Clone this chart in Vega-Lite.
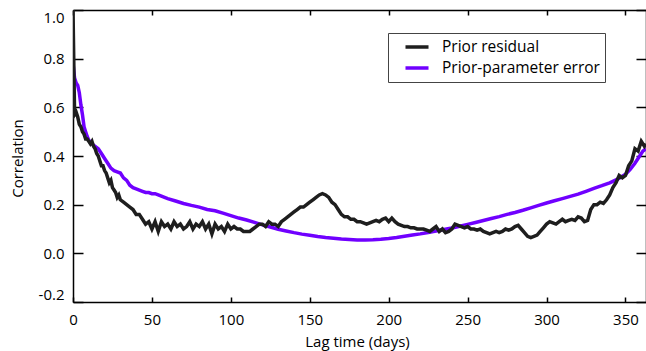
{
  "$schema": "https://vega.github.io/schema/vega-lite/v6.json",
  "width": 573,
  "height": 292,
  "autosize": {"type": "none"},
  "padding": {"left": 73, "top": 10, "right": 0, "bottom": 49},
  "background": "white",
  "config": {
    "view": {"stroke": null},
    "font": "Open Sans",
    "axis": {
      "grid": false,
      "domainColor": "black",
      "domainWidth": 1.5,
      "tickColor": "black",
      "tickWidth": 1.5,
      "labelFont": "Open Sans",
      "labelFontSize": 15,
      "labelColor": "black",
      "titleFont": "Open Sans",
      "titleFontSize": 15,
      "titleFontWeight": "normal",
      "titleColor": "black"
    }
  },
  "datasets": {
    "pr": [
      {"lag":0,"corr":1.0},{"lag":1,"corr":0.57},{"lag":2,"corr":0.58},{"lag":3,"corr":0.56},{"lag":4,"corr":0.53},{"lag":5,"corr":0.52},{"lag":6,"corr":0.50},{"lag":7,"corr":0.49},{"lag":8,"corr":0.47},{"lag":9,"corr":0.47},{"lag":10,"corr":0.46},{"lag":11,"corr":0.45},{"lag":12,"corr":0.46},{"lag":13,"corr":0.44},{"lag":14,"corr":0.43},{"lag":15,"corr":0.41},{"lag":16,"corr":0.40},{"lag":17,"corr":0.38},{"lag":18,"corr":0.36},{"lag":19,"corr":0.36},{"lag":20,"corr":0.34},{"lag":21,"corr":0.33},{"lag":22,"corr":0.31},{"lag":23,"corr":0.29},{"lag":24,"corr":0.30},{"lag":25,"corr":0.27},{"lag":26,"corr":0.26},{"lag":27,"corr":0.25},{"lag":28,"corr":0.23},{"lag":29,"corr":0.24},{"lag":30,"corr":0.22},{"lag":32,"corr":0.21},{"lag":34,"corr":0.20},{"lag":36,"corr":0.19},{"lag":38,"corr":0.18},{"lag":40,"corr":0.16},{"lag":42,"corr":0.16},{"lag":44,"corr":0.14},{"lag":46,"corr":0.12},{"lag":48,"corr":0.13},{"lag":50,"corr":0.10},{"lag":52,"corr":0.13},{"lag":54,"corr":0.09},{"lag":56,"corr":0.13},{"lag":58,"corr":0.11},{"lag":60,"corr":0.12},{"lag":62,"corr":0.10},{"lag":64,"corr":0.13},{"lag":66,"corr":0.11},{"lag":68,"corr":0.12},{"lag":70,"corr":0.10},{"lag":72,"corr":0.11},{"lag":74,"corr":0.13},{"lag":76,"corr":0.10},{"lag":78,"corr":0.12},{"lag":80,"corr":0.11},{"lag":82,"corr":0.13},{"lag":84,"corr":0.10},{"lag":86,"corr":0.12},{"lag":88,"corr":0.08},{"lag":90,"corr":0.12},{"lag":92,"corr":0.10},{"lag":94,"corr":0.11},{"lag":96,"corr":0.09},{"lag":98,"corr":0.12},{"lag":100,"corr":0.10},{"lag":102,"corr":0.11},{"lag":104,"corr":0.10},{"lag":106,"corr":0.10},{"lag":108,"corr":0.09},{"lag":110,"corr":0.09},{"lag":112,"corr":0.09},{"lag":114,"corr":0.10},{"lag":116,"corr":0.11},{"lag":118,"corr":0.12},{"lag":120,"corr":0.12},{"lag":122,"corr":0.11},{"lag":124,"corr":0.13},{"lag":126,"corr":0.12},{"lag":128,"corr":0.12},{"lag":130,"corr":0.11},{"lag":132,"corr":0.13},{"lag":134,"corr":0.14},{"lag":136,"corr":0.15},{"lag":138,"corr":0.16},{"lag":140,"corr":0.17},{"lag":142,"corr":0.18},{"lag":144,"corr":0.19},{"lag":146,"corr":0.19},{"lag":148,"corr":0.20},{"lag":150,"corr":0.21},{"lag":152,"corr":0.22},{"lag":154,"corr":0.23},{"lag":156,"corr":0.24},{"lag":158,"corr":0.245},{"lag":160,"corr":0.24},{"lag":162,"corr":0.23},{"lag":164,"corr":0.21},{"lag":166,"corr":0.20},{"lag":168,"corr":0.18},{"lag":170,"corr":0.16},{"lag":172,"corr":0.15},{"lag":174,"corr":0.15},{"lag":176,"corr":0.14},{"lag":178,"corr":0.14},{"lag":180,"corr":0.13},{"lag":182,"corr":0.13},{"lag":184,"corr":0.125},{"lag":186,"corr":0.12},{"lag":188,"corr":0.125},{"lag":190,"corr":0.13},{"lag":192,"corr":0.135},{"lag":194,"corr":0.13},{"lag":196,"corr":0.14},{"lag":198,"corr":0.145},{"lag":200,"corr":0.13},{"lag":202,"corr":0.145},{"lag":204,"corr":0.13},{"lag":206,"corr":0.12},{"lag":208,"corr":0.115},{"lag":210,"corr":0.11},{"lag":212,"corr":0.11},{"lag":214,"corr":0.105},{"lag":216,"corr":0.105},{"lag":218,"corr":0.10},{"lag":220,"corr":0.10},{"lag":222,"corr":0.10},{"lag":224,"corr":0.095},{"lag":226,"corr":0.09},{"lag":228,"corr":0.10},{"lag":230,"corr":0.11},{"lag":232,"corr":0.09},{"lag":234,"corr":0.10},{"lag":236,"corr":0.085},{"lag":238,"corr":0.09},{"lag":240,"corr":0.10},{"lag":242,"corr":0.12},{"lag":244,"corr":0.115},{"lag":246,"corr":0.11},{"lag":248,"corr":0.105},{"lag":250,"corr":0.11},{"lag":252,"corr":0.10},{"lag":254,"corr":0.10},{"lag":256,"corr":0.095},{"lag":258,"corr":0.10},{"lag":260,"corr":0.09},{"lag":262,"corr":0.085},{"lag":264,"corr":0.08},{"lag":266,"corr":0.085},{"lag":268,"corr":0.09},{"lag":270,"corr":0.085},{"lag":272,"corr":0.09},{"lag":274,"corr":0.10},{"lag":276,"corr":0.095},{"lag":278,"corr":0.10},{"lag":280,"corr":0.11},{"lag":282,"corr":0.115},{"lag":284,"corr":0.10},{"lag":286,"corr":0.085},{"lag":288,"corr":0.07},{"lag":290,"corr":0.065},{"lag":292,"corr":0.07},{"lag":294,"corr":0.075},{"lag":296,"corr":0.09},{"lag":298,"corr":0.105},{"lag":300,"corr":0.12},{"lag":302,"corr":0.13},{"lag":304,"corr":0.125},{"lag":306,"corr":0.12},{"lag":308,"corr":0.13},{"lag":310,"corr":0.14},{"lag":312,"corr":0.13},{"lag":314,"corr":0.135},{"lag":316,"corr":0.14},{"lag":318,"corr":0.135},{"lag":320,"corr":0.15},{"lag":322,"corr":0.145},{"lag":324,"corr":0.13},{"lag":326,"corr":0.135},{"lag":328,"corr":0.18},{"lag":330,"corr":0.20},{"lag":332,"corr":0.20},{"lag":334,"corr":0.21},{"lag":336,"corr":0.205},{"lag":338,"corr":0.22},{"lag":340,"corr":0.24},{"lag":342,"corr":0.27},{"lag":344,"corr":0.29},{"lag":346,"corr":0.32},{"lag":348,"corr":0.31},{"lag":350,"corr":0.32},{"lag":352,"corr":0.36},{"lag":354,"corr":0.38},{"lag":356,"corr":0.43},{"lag":358,"corr":0.42},{"lag":360,"corr":0.46},{"lag":362,"corr":0.44},{"lag":363,"corr":0.45}
    ],
    "ppe": [
      {"lag":0,"corr":0.78},{"lag":1,"corr":0.72},{"lag":2,"corr":0.70},{"lag":3,"corr":0.69},{"lag":4,"corr":0.66},{"lag":5,"corr":0.61},{"lag":6,"corr":0.57},{"lag":7,"corr":0.52},{"lag":8,"corr":0.50},{"lag":9,"corr":0.48},{"lag":10,"corr":0.465},{"lag":12,"corr":0.45},{"lag":14,"corr":0.44},{"lag":16,"corr":0.43},{"lag":18,"corr":0.41},{"lag":20,"corr":0.39},{"lag":22,"corr":0.37},{"lag":24,"corr":0.35},{"lag":26,"corr":0.34},{"lag":28,"corr":0.335},{"lag":30,"corr":0.33},{"lag":32,"corr":0.31},{"lag":34,"corr":0.30},{"lag":36,"corr":0.28},{"lag":38,"corr":0.27},{"lag":40,"corr":0.265},{"lag":42,"corr":0.26},{"lag":44,"corr":0.255},{"lag":46,"corr":0.25},{"lag":48,"corr":0.25},{"lag":50,"corr":0.245},{"lag":52,"corr":0.245},{"lag":54,"corr":0.24},{"lag":56,"corr":0.235},{"lag":58,"corr":0.23},{"lag":60,"corr":0.225},{"lag":65,"corr":0.215},{"lag":70,"corr":0.205},{"lag":75,"corr":0.197},{"lag":80,"corr":0.19},{"lag":85,"corr":0.18},{"lag":90,"corr":0.175},{"lag":95,"corr":0.165},{"lag":100,"corr":0.155},{"lag":105,"corr":0.145},{"lag":110,"corr":0.137},{"lag":115,"corr":0.127},{"lag":120,"corr":0.117},{"lag":125,"corr":0.108},{"lag":130,"corr":0.099},{"lag":135,"corr":0.092},{"lag":140,"corr":0.085},{"lag":145,"corr":0.079},{"lag":150,"corr":0.074},{"lag":155,"corr":0.069},{"lag":160,"corr":0.065},{"lag":165,"corr":0.062},{"lag":170,"corr":0.059},{"lag":175,"corr":0.057},{"lag":180,"corr":0.055},{"lag":185,"corr":0.055},{"lag":190,"corr":0.056},{"lag":195,"corr":0.058},{"lag":200,"corr":0.061},{"lag":205,"corr":0.065},{"lag":210,"corr":0.07},{"lag":215,"corr":0.075},{"lag":220,"corr":0.08},{"lag":225,"corr":0.086},{"lag":230,"corr":0.092},{"lag":235,"corr":0.098},{"lag":240,"corr":0.104},{"lag":245,"corr":0.111},{"lag":250,"corr":0.119},{"lag":255,"corr":0.127},{"lag":260,"corr":0.135},{"lag":265,"corr":0.143},{"lag":270,"corr":0.151},{"lag":275,"corr":0.16},{"lag":280,"corr":0.168},{"lag":285,"corr":0.177},{"lag":290,"corr":0.187},{"lag":295,"corr":0.197},{"lag":300,"corr":0.207},{"lag":305,"corr":0.216},{"lag":310,"corr":0.225},{"lag":315,"corr":0.234},{"lag":320,"corr":0.243},{"lag":325,"corr":0.255},{"lag":330,"corr":0.267},{"lag":335,"corr":0.278},{"lag":340,"corr":0.29},{"lag":345,"corr":0.305},{"lag":350,"corr":0.325},{"lag":353,"corr":0.345},{"lag":356,"corr":0.37},{"lag":359,"corr":0.40},{"lag":361,"corr":0.42},{"lag":363,"corr":0.43}
    ]
  },
  "layer": [
    {
      "data": {"name": "ppe"},
      "transform": [{"calculate": "'Prior-parameter error'", "as": "series"}],
      "mark": {"type": "line", "strokeWidth": 3.5, "clip": true},
      "encoding": {
        "x": {"field": "lag", "type": "quantitative",
              "scale": {"domain": [0, 363], "nice": false, "zero": false},
              "axis": {"orient": "bottom", "title": "Lag time (days)", "values": [0,50,100,150,200,250,300,350],
                       "tickSize": -5, "labelPadding": 15, "labelFlush": false, "labelOverlap": false,
                       "titleX": 284, "titleY": 39, "titleBaseline": "middle", "titleAlign": "center"}},
        "y": {"field": "corr", "type": "quantitative",
              "scale": {"domain": [-0.2, 1.0], "nice": false, "zero": false},
              "axis": {"orient": "left", "title": "Correlation", "values": [-0.2,0,0.2,0.4,0.6,0.8,1.0],
                       "labelExpr": "datum.value < 0 ? '-' + format(-datum.value, '.1f') : format(datum.value, '.1f')",
                       "tickSize": -10, "labelPadding": 19, "labelFlush": true, "labelOverlap": false,
                       "titleX": -56, "titleY": 148, "titleBaseline": "middle", "titleAlign": "center", "titleAngle": -90}},
        "color": {"field": "series", "type": "nominal",
                  "scale": {"domain": ["Prior residual", "Prior-parameter error"], "range": ["#1e1e1e", "#7000ff"]},
                  "legend": {"orient": "none", "legendX": 315, "legendY": 23, "title": null, "direction": "vertical",
                             "strokeColor": "#444", "fillColor": "white", "padding": 5,
                             "symbolType": "M-1.6,0L1.6,0", "symbolSize": 207, "symbolStrokeWidth": 3.5,
                             "symbolOffset": 15, "labelOffset": 16, "labelFont": "Open Sans", "labelFontSize": 15.5,
                             "labelLimit": 400, "labelColor": "black", "rowPadding": 3}}
      }
    },
    {
      "data": {"name": "pr"},
      "transform": [{"calculate": "'Prior residual'", "as": "series"}],
      "mark": {"type": "line", "strokeWidth": 3.5, "clip": true},
      "encoding": {
        "x": {"field": "lag", "type": "quantitative", "axis": null},
        "y": {"field": "corr", "type": "quantitative", "axis": null},
        "color": {"field": "series", "type": "nominal",
                  "scale": {"domain": ["Prior residual", "Prior-parameter error"], "range": ["#1e1e1e", "#7000ff"]}}
      }
    },
    {
      "data": {"name": "ppe"},
      "mark": {"type": "point", "opacity": 0},
      "encoding": {
        "x": {"field": "lag", "type": "quantitative",
              "axis": {"orient": "top", "title": null, "labels": false, "values": [0,50,100,150,200,250,300,350], "tickSize": -5}},
        "y": {"field": "corr", "type": "quantitative",
              "axis": {"orient": "right", "title": null, "labels": false, "values": [-0.2,0,0.2,0.4,0.6,0.8,1.0], "tickSize": -10}}
      }
    }
  ],
  "resolve": {"axis": {"x": "independent", "y": "independent"}}
}
